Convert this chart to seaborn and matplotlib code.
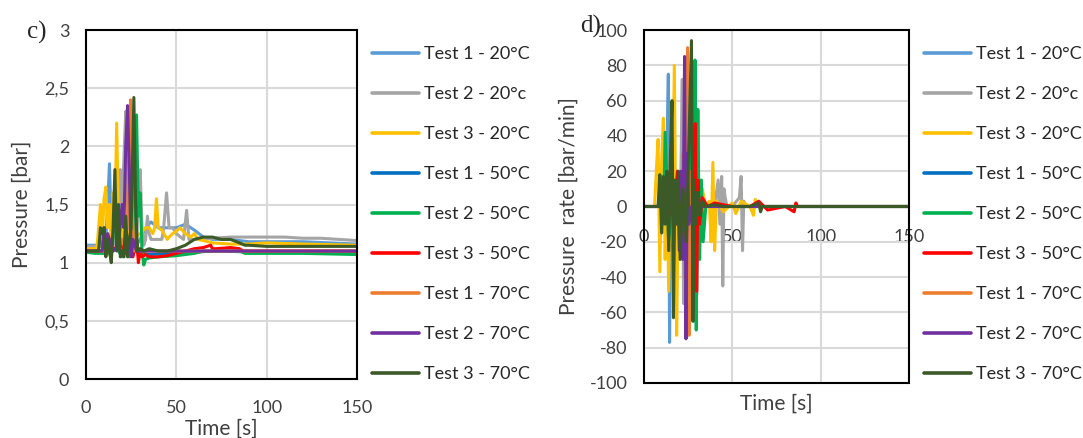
import numpy as np
import pandas as pd
import seaborn as sns
import matplotlib.pyplot as plt
from matplotlib.ticker import FuncFormatter

sns.set_theme(style="whitegrid")
plt.rcParams['font.family'] = ['Lato', 'DejaVu Sans']
plt.rcParams['axes.unicode_minus'] = False

names = ['Test 1 - 20°C', 'Test 2 - 20°c', 'Test 3 - 20°C',
         'Test 1 - 50°C', 'Test 2 - 50°C', 'Test 3 - 50°C',
         'Test 1 - 70°C', 'Test 2 - 70°C', 'Test 3 - 70°C']
colors = ['#5B9BD5', '#A5A5A5', '#FFC000', '#0070C0', '#00B050',
          '#FF0000', '#ED7D31', '#7030A0', '#3B5A27']

# --- c) pressure [bar] ---
t_p1_20 = [0, 7, 8, 9, 10, 11, 12, 13, 14, 15, 16, 18, 20, 22, 25, 28, 30, 33, 36, 40, 45, 50, 55, 60, 65, 70, 80, 90, 100, 120, 150]
p1_20 = [1.15, 1.15, 1.25, 1.15, 1.3, 1.2, 1.5, 1.85, 1.3, 1.15, 1.2, 1.1, 1.15, 1.1, 1.2, 1.15, 1.2, 1.3, 1.35, 1.3, 1.3, 1.3, 1.33, 1.28, 1.22, 1.2, 1.2, 1.18, 1.18, 1.18, 1.16]
t_p2_20 = [0, 10, 15, 18, 19, 20, 21, 22, 23, 24, 28, 29, 30, 31, 32, 33, 34, 35, 36, 38, 40, 42, 43, 44.6, 46, 48, 50, 54, 55.7, 57, 60, 70, 80, 90, 100, 110, 120, 130, 140, 150]
p2_20 = [1.14, 1.14, 1.15, 1.3, 1.8, 1.5, 1.9, 2.3, 1.5, 1.1, 1.2, 1.5, 1.8, 1.3, 1.15, 1.2, 1.4, 1.25, 1.2, 1.2, 1.2, 1.2, 1.3, 1.6, 1.3, 1.3, 1.25, 1.2, 1.45, 1.2, 1.2, 1.21, 1.22, 1.22, 1.22, 1.22, 1.21, 1.21, 1.2, 1.19]
t_p3_20 = [0, 6, 7, 8, 9, 10, 11, 12, 13, 14, 15, 16, 17, 18, 19, 20, 22, 25, 30, 33, 35, 37, 38, 39, 40, 42, 45, 46, 48, 50, 52, 55, 58, 60, 62, 65, 70, 80, 90, 100, 120, 150]
p3_20 = [1.12, 1.12, 1.3, 1.5, 1.2, 1.55, 1.65, 1.3, 1.5, 1.15, 1.6, 1.4, 2.2, 1.3, 1.4, 1.2, 1.3, 1.2, 1.25, 1.3, 1.3, 1.25, 1.3, 1.55, 1.3, 1.28, 1.2, 1.22, 1.25, 1.27, 1.3, 1.25, 1.22, 1.25, 1.2, 1.19, 1.17, 1.16, 1.16, 1.17, 1.16, 1.15]
t_p1_50 = [0, 10, 15, 20, 25, 30, 35, 50, 70, 100, 150]
p1_50 = [1.1, 1.1, 1.12, 1.1, 1.12, 1.08, 1.07, 1.08, 1.1, 1.09, 1.09]
t_p2_50 = [0, 5, 10, 12, 14, 16, 18, 20, 22, 24, 26, 27, 28, 29, 30, 31, 32, 33, 35, 40, 50, 60, 65, 70, 75, 85, 88, 100, 120, 150]
p2_50 = [1.09, 1.08, 1.08, 1.1, 1.05, 1.4, 1.1, 1.05, 1.1, 1.05, 1.7, 1.2, 2.27, 1.4, 1.6, 1.1, 0.98, 1.03, 1.04, 1.05, 1.06, 1.08, 1.1, 1.1, 1.1, 1.1, 1.08, 1.08, 1.08, 1.07]
t_p3_50 = [0, 10, 15, 20, 22, 24, 26, 28, 29, 30, 31, 33, 35, 40, 45, 50, 55, 60, 65, 69, 70, 72, 80, 85, 87, 100, 120, 150]
p3_50 = [1.1, 1.1, 1.12, 1.15, 1.08, 1.2, 1.05, 1.2, 1.0, 1.1, 1.05, 1.07, 1.05, 1.05, 1.06, 1.08, 1.1, 1.12, 1.13, 1.15, 1.12, 1.12, 1.13, 1.12, 1.1, 1.1, 1.1, 1.1]
t_p1_70 = [0, 15, 18, 20, 22, 23, 24, 24.7, 25.5, 26.5, 28, 30, 40, 60, 100, 150]
p1_70 = [1.1, 1.1, 1.12, 1.2, 1.1, 1.4, 2.2, 2.4, 1.5, 1.1, 1.15, 1.1, 1.1, 1.1, 1.1, 1.1]
t_p2_70 = [0, 9, 10, 11, 12, 15, 18, 20, 21, 22, 23, 24, 25, 26, 28, 30, 40, 150]
p2_70 = [1.1, 1.1, 1.3, 1.1, 1.25, 1.1, 1.15, 1.5, 1.3, 2.0, 2.35, 1.8, 1.05, 1.2, 1.1, 1.1, 1.1, 1.1]
t_p3_70 = [0, 7, 8, 9, 10, 11, 12, 13, 14, 15, 16, 17, 18, 19, 20, 21, 22, 23, 24, 25, 26.5, 27.5, 28.5, 30, 32, 35, 40, 45, 50, 55, 60, 65, 70, 75, 80, 85, 88, 90, 100, 120, 150]
p3_70 = [1.1, 1.1, 1.3, 1.25, 1.3, 1.05, 1.2, 1.1, 1.0, 1.3, 1.8, 1.1, 1.5, 1.05, 1.1, 1.05, 1.4, 1.05, 1.2, 1.3, 2.42, 1.5, 1.1, 1.12, 1.1, 1.12, 1.1, 1.1, 1.12, 1.15, 1.2, 1.22, 1.22, 1.2, 1.2, 1.17, 1.15, 1.15, 1.14, 1.14, 1.14]

# --- d) pressure rate [bar/min] ---
t_r1_20 = [0, 8, 9, 10, 11, 12, 13, 13.8, 14.5, 15.3, 16, 17, 18, 20, 22, 25, 30, 35, 150]
r1_20 = [0, 0, 10, -8, 15, -15, 30, 75, -77, 20, -10, 5, 0, 3, -3, 0, 2, 0, 0]
t_r2_20 = [0, 18, 19, 20, 21, 21.7, 22.4, 23, 28, 29, 30, 31, 32, 40, 42, 43, 44, 44.6, 45.3, 46, 47, 50, 54, 55, 55.8, 56.5, 57.5, 60, 150]
r2_20 = [0, 0, 10, -30, 25, 72, -55, 0, 0, 25, -50, 10, 0, 0, 15, -10, 17, -45, 10, 5, 0, 0, 5, 17, -25, 3, 0, 0, 0]
t_r3_20 = [0, 6, 7, 8, 9, 10, 11, 12, 13, 14, 15, 16, 17.2, 18.5, 19.5, 21, 25, 30, 33, 35, 37, 38, 39, 40, 41, 43, 45, 50, 52, 55, 60, 62, 63, 65, 150]
r3_20 = [0, 0, 20, 38, -37, 25, 50, -30, 20, -48, 35, -20, 80, -73, 10, -10, 5, -5, 10, 0, 3, -20, 25, -25, 3, 0, -3, 2, -4, 3, 0, -5, 4, 0, 0]
t_r1_50 = [0, 10, 12, 14, 16, 18, 20, 22, 24, 26, 28, 30, 150]
r1_50 = [0, 0, 5, -5, 8, -6, 4, -4, 3, -3, 0, 0, 0]
t_r2_50 = [0, 9, 10, 11, 12, 14, 16, 18, 20, 22, 24, 26, 27, 28, 28.9, 29.6, 30.5, 31.5, 32.5, 33.5, 35, 40, 50, 60, 150]
r2_50 = [0, 0, 15, -10, 42, -20, 5, -5, 10, -10, 20, -30, 40, -65, 83, -70, 55, -30, 15, -20, 0, 0, 0, 0, 0]
t_r3_50 = [0, 10, 14, 16, 18, 19, 20, 21, 22, 24, 26, 28, 29, 29.8, 30.6, 31.5, 33, 36, 40, 50, 60, 65, 70, 80, 85, 86, 87, 90, 150]
r3_50 = [0, 0, 5, -5, 10, 20, -10, 15, -10, 5, -8, 10, 47, -48, 15, -10, 5, 0, 2, 0, 0, 3, -2, 0, -3, 2, 0, 0, 0]
t_r1_70 = [0, 18, 20, 21, 22, 23, 24.7, 25.5, 26.3, 27, 28, 30, 150]
r1_70 = [0, 0, 10, -20, 30, -40, 90, -73, 20, -10, 5, 0, 0]
t_r2_70 = [0, 16, 17, 18, 19, 20, 21, 22, 23, 23.8, 24.6, 25.5, 27, 29, 150]
r2_70 = [0, 0, 10, -10, 15, -25, 20, -30, 85, -75, 30, -10, 0, 0, 0]
t_r3_70 = [0, 8, 9, 10, 11, 12, 13, 14, 15, 15.9, 16.7, 17.5, 18.5, 19.5, 20.5, 22, 24, 26.9, 27.7, 28.5, 29.5, 30.5, 31.5, 33, 35, 40, 45, 50, 60, 65, 66, 67, 70, 75, 150]
r3_70 = [0, 0, 18, -15, 17, -10, 20, -25, 30, 60, -63, 15, -10, 20, -30, 10, -20, 94, -65, 15, -10, 8, -5, 3, 0, 1, 0, 0, 0, 2, -3, 0, 0, 0, 0]

press = [(t_p1_20, p1_20), (t_p2_20, p2_20), (t_p3_20, p3_20),
         (t_p1_50, p1_50), (t_p2_50, p2_50), (t_p3_50, p3_50),
         (t_p1_70, p1_70), (t_p2_70, p2_70), (t_p3_70, p3_70)]
rates = [(t_r1_20, r1_20), (t_r2_20, r2_20), (t_r3_20, r3_20),
         (t_r1_50, r1_50), (t_r2_50, r2_50), (t_r3_50, r3_50),
         (t_r1_70, r1_70), (t_r2_70, r2_70), (t_r3_70, r3_70)]


def long_df(pairs):
    parts = []
    for name, (t, v) in zip(names, pairs):
        parts.append(pd.DataFrame({'t': t, 'v': v, 'series': name}))
    return pd.concat(parts, ignore_index=True)


fig = plt.figure(figsize=(10.83, 4.38), dpi=100)
ax1 = fig.add_axes([0.0794, 0.1347, 0.2502, 0.7968])
ax2 = fig.add_axes([0.5946, 0.1256, 0.2447, 0.8059])
pal = dict(zip(names, colors))
tick_fs = 13
lab_fs = 15
leg_fs = 13
txt_col = '#404040'

for ax, pairs in [(ax1, press), (ax2, rates)]:
    sns.lineplot(data=long_df(pairs), x='t', y='v', hue='series', palette=pal,
                 hue_order=names, estimator=None, sort=False, lw=2.2, ax=ax)
    leg = ax.get_legend()
    handles = leg.legend_handles
    labels = [tx.get_text() for tx in leg.get_texts()]
    for h in handles:
        h.set_linewidth(2.6)
    ax.legend(handles, labels, loc='upper left', bbox_to_anchor=(1.03, 0.975),
              frameon=False, fontsize=leg_fs, handlelength=2.6, handletextpad=0.25,
              labelspacing=1.33, borderaxespad=0.0)
    ax.set_xlim(0, 150)
    ax.set_xticks([0, 50, 100, 150])
    ax.grid(True, color='#d9d9d9', lw=1.5)
    ax.tick_params(length=0, labelsize=tick_fs, pad=12, colors=txt_col)
    for s in ax.spines.values():
        s.set_color('black')
        s.set_linewidth(1.5)
    ax.set_xlabel('Time [s]', fontsize=lab_fs, color=txt_col)

# left panel
ax1.set_ylim(0, 3)
ax1.set_yticks([0, 0.5, 1, 1.5, 2, 2.5, 3])
ax1.yaxis.set_major_formatter(FuncFormatter(lambda v, p: f'{v:g}'.replace('.', ',')))
ax1.tick_params(axis='x', pad=15)
ax1.set_ylabel('Pressure [bar]', fontsize=lab_fs, color=txt_col)
ax1.yaxis.set_label_coords(-0.2, 0.5)
ax1.xaxis.set_label_coords(0.5, -0.113)
fig.text(0.025, 0.925, 'c)', fontsize=18, family='Liberation Serif', va='center')

# right panel: x axis crosses at 0
ax2.set_ylim(-100, 100)
ax2.set_yticks(np.arange(-100, 101, 20))
ax2.tick_params(axis='x', pad=16)
ax2.spines['bottom'].set_position(('data', 0))
ax2.spines['bottom'].set_color('#d9d9d9')
ax2.spines['bottom'].set_linewidth(1.0)
ax2.spines['bottom'].set_zorder(1)
ax2.axhline(-100, color='black', lw=1.5, clip_on=False, zorder=5)
ax2.set_ylabel('Pressure  rate [bar/min]', fontsize=lab_fs, color=txt_col)
ax2.yaxis.set_label_coords(-0.245, 0.5)
ax2.xaxis.set_label_coords(0.5, -0.03)
fig.text(0.536, 0.94, 'd)', fontsize=18, family='Liberation Serif', va='center')

fig.savefig('out.png', dpi=100)
